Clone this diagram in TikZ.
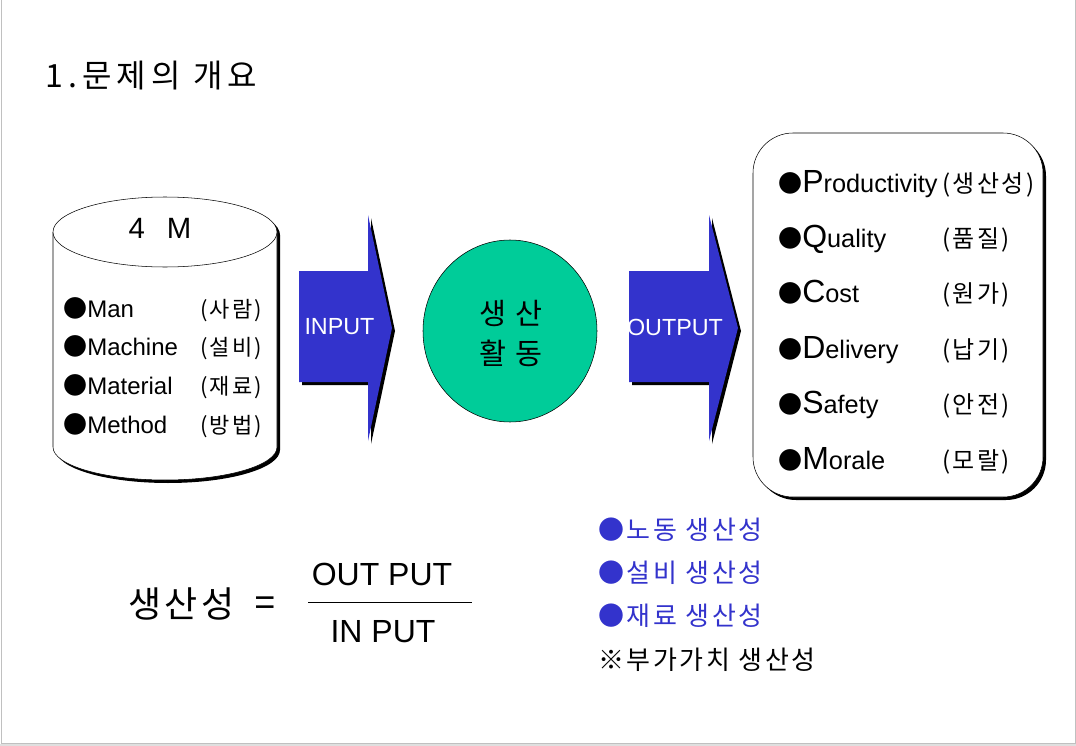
\documentclass[tikz,border=0pt]{standalone}
\usepackage{fontspec}
\setmainfont{Liberation Sans}
\newfontfamily\krfont{Noto Sans CJK KR}
\newfontfamily\krwide[LetterSpace=10]{Noto Sans CJK KR}
\newfontfamily\krtitle[LetterSpace=16]{Noto Sans CJK KR}
\usetikzlibrary{positioning}
\definecolor{arrowblue}{HTML}{3333CC}
\definecolor{actgreen}{HTML}{00CC99}
\definecolor{framegray}{HTML}{C0C0C0}
\newcommand{\bul}{{\krfont ●}}

\begin{document}
\begin{tikzpicture}[
  x=0.75pt,y=-0.75pt,
  txt/.style={inner sep=0pt,anchor=base west},
  cyltxt/.style={txt,font=\fontsize{18}{20}\selectfont},
  cylkr/.style={txt,font=\krwide\fontsize{16.5}{20}\selectfont},
  outkr/.style={txt,font=\krwide\fontsize{18}{20}\selectfont},
  bluetxt/.style={txt,font=\krwide\fontsize{19.5}{22}\selectfont,text=arrowblue},
  arrlab/.style={inner sep=0pt,text=white,font=\fontsize{17.5}{20}\selectfont},
  shadow/.style={fill=black,shift={(3,3)}}
]
\useasboundingbox (0,0) rectangle (1076,746);
% page frame
\draw[framegray] (1,0) -- (1,743) -- (1075,743) -- (1075,0);
\fill[framegray!50] (0,744) rectangle (1076,746);

% title
\node[txt,font=\krtitle\fontsize{24}{26}\selectfont] (title) at (45,87) {1.문제의 개요};

% 4M cylinder
\fill[shadow] (53,232) -- (53,447) arc[start angle=180,end angle=0,x radius=112,y radius=33]
  -- (277,232) arc[start angle=0,end angle=-180,x radius=112,y radius=35] -- cycle;
\filldraw[fill=white] (53,232) -- (53,447) arc[start angle=180,end angle=0,x radius=112,y radius=33] -- (277,232);
\draw[fill=white] (165,232) ellipse[x radius=112,y radius=35];
\node[inner sep=0pt,anchor=base,font=\fontsize{22}{24}\selectfont] (fourm) at (160,238) {4\hspace{0.75em}M};
\foreach \en/\kr [count=\i from 0] in {Man/사람,Machine/설비,Material/재료,Method/방법}
{
  \node[cyltxt] (m\i) at (63,{317+38.7*\i}) {\bul\en};
  \node[cylkr] (mkr\i) at (200,{317+38.7*\i}) {(\kr)};
}

% block arrows
\foreach \xl/\xh/\xt/\lab/\nm in {299/368/392/INPUT/inarr,629/709/738/OUTPUT/outarr}
{
  \fill[shadow] (\xl,271) -- (\xh,271) -- (\xh,215) -- (\xt,328) -- (\xh,441) -- (\xh,382) -- (\xl,382) -- cycle;
  \fill[arrowblue] (\xl,271) -- (\xh,271) -- (\xh,215) -- (\xt,328) -- (\xh,441) -- (\xh,382) -- (\xl,382) -- cycle;
  \node[arrlab] (\nm) at ({(\xl+\xh)/2+6},327) {\lab};
}

% production activity
\draw[fill=actgreen] (510,331) ellipse[x radius=87,y radius=91];
\node[align=center,inner sep=0pt,font=\krwide\fontsize{22}{30}\selectfont] (act) at (511,333) {생 산\\활 동};

% output box
\fill[shadow,rounded corners=30pt] (753,133) rectangle (1043,497);
\draw[fill=white,rounded corners=30pt] (753,133) rectangle (1043,497);
\foreach \capl/\restl/\korl [count=\i from 0] in {P/roductivity/생산성,Q/uality/품질,C/ost/원가,D/elivery/납기,S/afety/안전,M/orale/모랄}
{
  \node[txt] (out\i) at (778,{192+55.4*\i}) {{\krfont\fontsize{18}{20}\selectfont ●}{\fontsize{24}{26}\selectfont\capl}{\fontsize{19}{22}\selectfont\restl}};
  \node[outkr] (outkr\i) at (942,{192+55.4*\i}) {(\korl)};
}

% productivity ratio
\node[txt,font=\krwide\fontsize{27}{30}\selectfont] (prod) at (128,617) {생산성};
\node[txt,font=\fontsize{27}{30}\selectfont] (eq) at (254,614) {=};
\node[inner sep=0pt,anchor=base,font=\fontsize{24}{26}\selectfont] (num) at (382,585) {OUT PUT};
\coordinate (fracL) at (308,602);
\coordinate (fracR) at (472,602);
\draw (fracL) -- (fracR);
\node[inner sep=0pt,anchor=base,font=\fontsize{24}{26}\selectfont] (den) at (383,642) {IN PUT};

% kinds of productivity
\foreach \kr [count=\i from 0] in {노동,설비,재료}
  \node[bluetxt] (kind\i) at (598,{539+43*\i}) {●\kr~생산성};
\node[txt,font=\krwide\fontsize{19.5}{22}\selectfont] (added) at (598,669) {※부가가치 생산성};
\end{tikzpicture}
\end{document}
